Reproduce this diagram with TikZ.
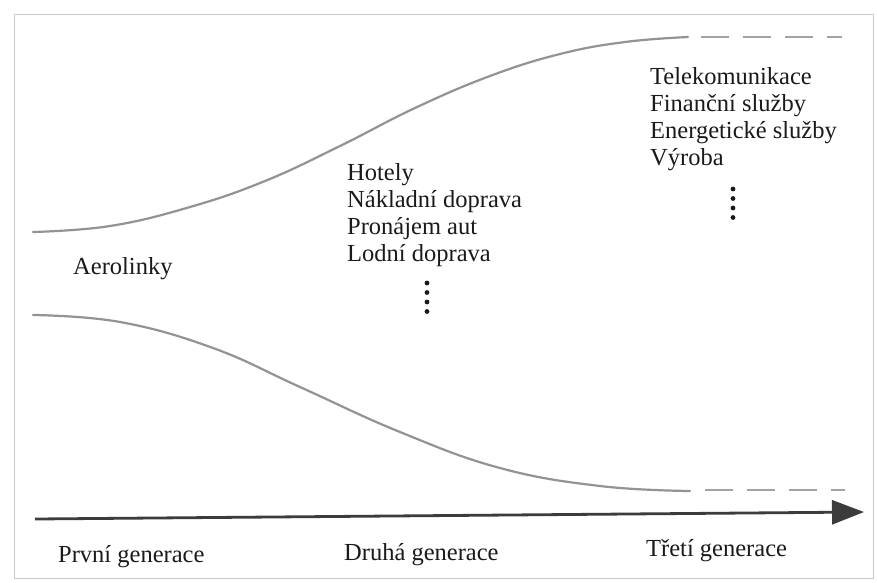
\documentclass[tikz,border=0pt]{standalone}
\usepackage{fontspec}
\setmainfont{Liberation Serif}
\usetikzlibrary{arrows.meta}
\definecolor{curvegray}{HTML}{939393}
\definecolor{framegray}{HTML}{CACACA}
\definecolor{inkc}{HTML}{1A1A1A}
\begin{document}
\begin{tikzpicture}[x=1pt,y=-1pt,
  lbl/.style={anchor=base west,inner sep=0pt,text=inkc,font=\fontsize{24.5}{27}\selectfont},
  curve/.style={draw=curvegray,line width=2.2pt,line cap=round},
  dashcurve/.style={draw=curvegray!85,line width=2.2pt,dash pattern=on 28pt off 14pt},
  axisline/.style={draw=inkc!85,line width=2.8pt,-{Triangle[length=32pt,width=24pt]}},
  dotc/.style={fill=inkc}]
\useasboundingbox (0,0) rectangle (877,582);
\fill[white] (0,0) rectangle (877,582);
\draw[framegray,line width=1pt] (14,14) rectangle (873,578);
% upper curve
\draw[curve] plot[smooth,tension=0.7] coordinates {(33,232) (110,226) (190,207) (265,181) (340,146) (415,108) (490,76) (560,54) (625,42) (688,37)};
\draw[dashcurve] (701,37) -- (842,37);
% lower curve
\draw[curve] plot[smooth,tension=0.7] coordinates {(33,315) (120,322) (213,348) (300,387) (400,432) (500,468) (600,486) (690,491)};
\draw[dashcurve] (705,490) -- (845,490);
% axis
\coordinate (axs) at (35,519);
\coordinate (axe) at (864,512);
\draw[axisline] (axs) -- (axe);
% labels
\node[lbl] (aer) at (73,274) {Aerolinky};
\node[lbl] (m1) at (347,180) {Hotely};
\node[lbl] (m2) at (347,207) {Nákladní doprava};
\node[lbl] (m3) at (347,234) {Pronájem aut};
\node[lbl] (m4) at (347,261) {Lodní doprava};
\node[lbl] (r1) at (650,84) {Telekomunikace};
\node[lbl] (r2) at (650,111) {Finanční služby};
\node[lbl] (r3) at (650,138) {Energetické služby};
\node[lbl] (r4) at (650,165) {Výroba};
\node[lbl] (g1) at (58,562) {První generace};
\node[lbl] (g2) at (344,560) {Druhá generace};
\node[lbl] (g3) at (646,556) {Třetí generace};
% vertical dots
\foreach \yy in {283,292.5,302,311.5}{\fill[dotc] (427,\yy) circle (2.4pt);}
\foreach \yy in {189,198.5,208,217.5}{\fill[dotc] (733,\yy) circle (2.4pt);}
\end{tikzpicture}
\end{document}
